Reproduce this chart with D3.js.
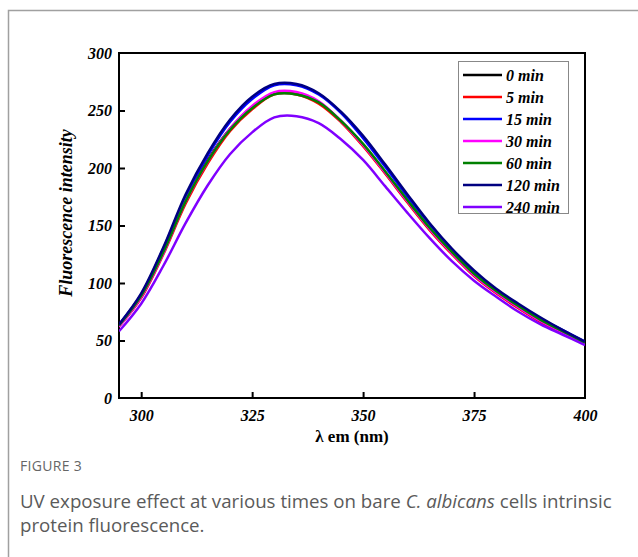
<!DOCTYPE html>
<html>
<head>
<meta charset="utf-8">
<script src="https://cdn.jsdelivr.net/npm/d3@7"></script>
<style>
  body { margin: 0; background: #fff; }
  svg { display: block; }
</style>
</head>
<body>
<script>
// emission wavelengths (nm)
var wavelength = [295, 300, 305, 310, 315, 320, 325, 330, 335, 340, 345, 350, 355, 360, 365, 370, 375, 380, 385, 390, 395, 400];

// fluorescence intensity per exposure time
var min0   = [63, 88, 127, 172, 207, 234, 253, 265, 265, 257, 241, 220, 196, 171, 147, 126, 107, 92, 79, 67, 57, 48];
var min5   = [62, 87, 125, 169, 204, 232, 251, 264, 264, 256, 240, 219, 195, 170, 146, 125, 106, 91, 78, 66, 56, 47];
var min15  = [64, 90, 130, 175, 211, 240, 260, 272, 272, 264, 248, 226, 201, 175, 151, 129, 110, 94, 81, 69, 59, 49];
var min30  = [62, 88, 126, 171, 206, 234, 254, 266, 266, 258, 241, 220, 196, 171, 147, 126, 107, 92, 79, 67, 57, 48];
var min60  = [63, 89, 127, 171, 206, 233, 252, 264, 264, 257, 241, 221, 197, 172, 148, 127, 108, 93, 80, 68, 58, 48];
var min120 = [64, 91, 131, 177, 213, 242, 262, 273, 273, 265, 249, 228, 203, 177, 152, 130, 111, 95, 82, 70, 59, 49];
var min240 = [58, 82, 115, 152, 185, 212, 231, 244, 245, 239, 225, 207, 184, 161, 139, 119, 102, 88, 75, 64, 55, 46];

var seriesNames = ["0 min", "5 min", "15 min", "30 min", "60 min", "120 min", "240 min"];
var seriesValues = [min0, min5, min15, min30, min60, min120, min240];
var seriesColors = ["#000000", "#ff0000", "#0000ff", "#ff00ff", "#008000", "#000080", "#8000ff"];

var xTicks = [300, 325, 350, 375, 400];
var yTicks = [0, 50, 100, 150, 200, 250, 300];

var width = 638, height = 557;
var margin = {left: 119, top: 53, right: 53, bottom: 159};

var svg = d3.select("body").append("svg")
    .attr("width", width)
    .attr("height", height);

// card border
svg.append("path")
    .attr("d", "M8.5,557V10.5H638")
    .attr("fill", "none")
    .attr("stroke", "#a0a0a0")
    .attr("stroke-width", 1.5);

var x = d3.scaleLinear()
    .domain([295, 400])
    .range([margin.left, width - margin.right]);
var y = d3.scaleLinear()
    .domain([0, 300])
    .range([height - margin.bottom, margin.top]);

var serif = "'Liberation Serif', 'Times New Roman', serif";

// frame
svg.append("rect")
    .attr("x", x(295))
    .attr("y", y(300))
    .attr("width", x(400) - x(295))
    .attr("height", y(0) - y(300))
    .attr("fill", "none")
    .attr("stroke", "#000")
    .attr("stroke-width", 2);

var xAxis = svg.append("g")
    .attr("transform", "translate(0," + y(0) + ")")
    .call(d3.axisBottom(x).tickValues(xTicks).tickSize(-6).tickPadding(12));
var yAxis = svg.append("g")
    .attr("transform", "translate(" + x(295) + ",0)")
    .call(d3.axisLeft(y).tickValues(yTicks).tickSize(-6).tickPadding(7));

[xAxis, yAxis].forEach(function(g) {
    g.select(".domain").remove();
    g.selectAll(".tick line").attr("stroke", "#000").attr("stroke-width", 2);
    g.selectAll(".tick text")
        .attr("fill", "#000")
        .style("font-family", serif)
        .style("font-size", "16px")
        .style("font-weight", "bold")
        .style("font-style", "italic");
});
// the 400 tick sits on the frame, drop its tick mark
xAxis.selectAll(".tick").filter(function(d) { return d === 400; }).select("line").remove();
yAxis.selectAll(".tick").filter(function(d) { return d === 0 || d === 300; }).select("line").remove();

svg.append("text")
    .attr("x", (x(295) + x(400)) / 2)
    .attr("y", 442)
    .attr("text-anchor", "middle")
    .style("font-family", serif)
    .style("font-size", "17px")
    .style("font-weight", "bold")
    .text("\u03bb em (nm)");

svg.append("text")
    .attr("transform", "translate(72,213) rotate(-90)")
    .attr("text-anchor", "middle")
    .style("font-family", serif)
    .style("font-size", "18px")
    .style("font-weight", "bold")
    .style("font-style", "italic")
    .text("Fluorescence intensity");

var line = d3.line()
    .x(function(d, i) { return x(wavelength[i]); })
    .y(function(d) { return y(d); })
    .curve(d3.curveCatmullRom);

svg.append("clipPath").attr("id", "plot")
    .append("rect")
    .attr("x", x(295)).attr("y", y(300))
    .attr("width", x(400) - x(295)).attr("height", y(0) - y(300));

svg.append("g")
    .attr("clip-path", "url(#plot)")
    .selectAll("path")
    .data(seriesValues)
    .enter().append("path")
    .attr("d", line)
    .attr("fill", "none")
    .attr("stroke", function(d, i) { return seriesColors[i]; })
    .attr("stroke-width", 2.5);

// legend
var legend = svg.append("g");
legend.append("rect")
    .attr("x", 458.5).attr("y", 61.5)
    .attr("width", 110).attr("height", 152)
    .attr("fill", "#fff")
    .attr("stroke", "#888")
    .attr("stroke-width", 1);

var rows = legend.selectAll("g.row")
    .data(seriesNames)
    .enter().append("g")
    .attr("class", "row")
    .attr("transform", function(d, i) { return "translate(463," + (75 + i * 22) + ")"; });
rows.append("line")
    .attr("x1", 0).attr("x2", 39)
    .attr("stroke", function(d, i) { return seriesColors[i]; })
    .attr("stroke-width", 2.5);
rows.append("text")
    .attr("x", 43)
    .attr("dy", "0.35em")
    .style("font-family", serif)
    .style("font-size", "16px")
    .style("font-weight", "bold")
    .style("font-style", "italic")
    .text(function(d) { return d; });

// caption
var sans = "'Open Sans', Lato, sans-serif";
svg.append("text")
    .attr("x", 20).attr("y", 471)
    .attr("fill", "#666")
    .style("font-family", sans)
    .style("font-size", "14px")
    .style("letter-spacing", "0.3px")
    .text("FIGURE 3");

var cap1 = svg.append("text")
    .attr("x", 20).attr("y", 508)
    .attr("fill", "#5a5a5a")
    .style("font-family", sans)
    .style("font-size", "17px");
cap1.append("tspan").text("UV exposure effect at various times on bare ");
cap1.append("tspan").style("font-style", "italic").text("C. albicans");
cap1.append("tspan").text(" cells intrinsic");

var cap2 = svg.append("text")
    .attr("x", 20).attr("y", 532)
    .attr("fill", "#5a5a5a")
    .style("font-family", sans)
    .style("font-size", "17px")
    .text("protein fluorescence.");

// fit caption size to the reference line width
var w = cap1.node().getComputedTextLength();
var fs = 17 * 592 / w;
cap1.style("font-size", fs + "px");
cap2.style("font-size", fs + "px");
</script>
</body>
</html>
